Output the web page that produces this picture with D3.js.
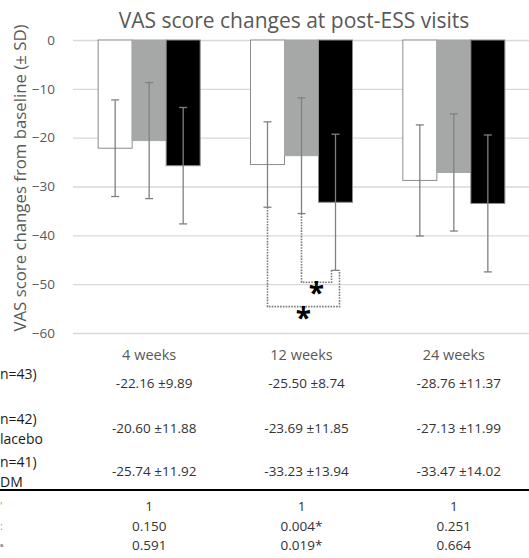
<!DOCTYPE html>
<html>
<head>
<meta charset="utf-8">
<script src="https://cdn.jsdelivr.net/npm/d3@7"></script>
<style>
  html, body { margin: 0; padding: 0; background: #fff; overflow: hidden; }
  svg { display: block; font-family: "Open Sans", sans-serif; }
</style>
</head>
<body>
<div id="chart"></div>
<script>
// visit categories
const categories = ["4 weeks", "12 weeks", "24 weeks"];
// three groups (white, grey, black bars)
const groups = ["n43", "placebo", "dm"];
// mean change per group, one value per visit
const means = [
  [-22.16, -25.50, -28.76],
  [-20.60, -23.69, -27.13],
  [-25.74, -33.23, -33.47]
];
const sds = [
  [9.89, 8.74, 11.37],
  [11.88, 11.85, 11.99],
  [11.92, 13.94, 14.02]
];
const yTicks = [0, -10, -20, -30, -40, -50, -60];
// visible (cut-off) row labels of the table under the chart
const rowLabels = [["n=43)", ""], ["n=42)", "lacebo"], ["n=41)", "DM"]];
const pLabels = ["'", ":", "▪"];
const pRows = [
  ["1", "1", "1"],
  ["0.150", "0.004*", "0.251"],
  ["0.591", "0.019*", "0.664"]
];
// significance brackets at 12 weeks: from group -> to group, bracket level
const brackets = [
  { cat: "12 weeks", from: 1, to: 2, level: -49.6, side: -1 },
  { cat: "12 weeks", from: 0, to: 2, level: -54.6, side: 1 }
];

const W = 529, H = 558;
const fills = ["#ffffff", "#a6a8a8", "#000000"];
const strokes = ["#8c8c8c", "#a6a8a8", "#8c8c8c"];

const svg = d3.select("#chart").append("svg")
  .attr("width", W).attr("height", H);

const x = d3.scaleBand().domain(categories).range([73, 530]);
const xs = d3.scaleBand().domain(groups).range([0, x.bandwidth()]).paddingOuter(0.74);
const y = d3.scaleLinear().domain([-60, 0]).range([333, 40]);

// gridlines
svg.append("g")
  .attr("transform", "translate(73,0)")
  .call(d3.axisLeft(y).tickValues(yTicks).tickSize(-(W - 73)).tickFormat(""))
  .call(g => g.select(".domain").remove())
  .call(g => g.selectAll("line").attr("stroke", "#d9d9d9").attr("stroke-width", 1.4));

// y tick labels
svg.append("g")
  .attr("transform", "translate(55,0)")
  .call(d3.axisLeft(y).tickValues(yTicks).tickSize(0).tickPadding(0))
  .call(g => g.select(".domain").remove())
  .call(g => g.selectAll("text")
    .attr("fill", "#595959")
    .style("font-family", "'Open Sans', sans-serif")
    .style("font-size", "13.5px"));

// bars
const cells = [];
groups.forEach((g, gi) => categories.forEach((c, ci) => {
  cells.push({ g, gi, c, mean: means[gi][ci], sd: sds[gi][ci] });
}));

const cx = d => x(d.c) + xs(d.g) + xs.bandwidth() / 2;

svg.append("g").selectAll("rect")
  .data(cells).join("rect")
  .attr("x", d => x(d.c) + xs(d.g))
  .attr("width", xs.bandwidth())
  .attr("y", y(0))
  .attr("height", d => y(d.mean) - y(0))
  .attr("fill", d => fills[d.gi])
  .attr("stroke", d => strokes[d.gi])
  .attr("stroke-width", 1);

// error bars
const eb = svg.append("g").attr("stroke", "#808080").attr("stroke-width", 1.3);
eb.selectAll("line.v").data(cells).join("line").attr("class", "v")
  .attr("x1", cx).attr("x2", cx)
  .attr("y1", d => y(d.mean + d.sd)).attr("y2", d => y(d.mean - d.sd));
eb.selectAll("line.t").data(cells).join("line").attr("class", "t")
  .attr("x1", d => cx(d) - 4).attr("x2", d => cx(d) + 4)
  .attr("y1", d => y(d.mean + d.sd)).attr("y2", d => y(d.mean + d.sd));
eb.selectAll("line.b").data(cells).join("line").attr("class", "b")
  .attr("x1", d => cx(d) - 4).attr("x2", d => cx(d) + 4)
  .attr("y1", d => y(d.mean - d.sd)).attr("y2", d => y(d.mean - d.sd));

// significance brackets
brackets.forEach(b => {
  const i = categories.indexOf(b.cat);
  const x1 = x(b.cat) + xs(groups[b.from]) + xs.bandwidth() / 2;
  const x2 = x(b.cat) + xs(groups[b.to]) + xs.bandwidth() / 2 + 4 * b.side;
  const yA = y(means[b.from][i] - sds[b.from][i]);
  const yB = y(means[b.to][i] - sds[b.to][i]);
  const yL = y(b.level);
  svg.append("path")
    .attr("d", `M${x1},${yA}V${yL}H${x2}V${yB}`)
    .attr("fill", "none")
    .attr("stroke", "#7a7a7a")
    .attr("stroke-width", 1.6)
    .attr("stroke-dasharray", "1.6,1.2");
  svg.append("text")
    .attr("x", (x1 + x2) / 2)
    .attr("y", yL + 21)
    .attr("text-anchor", "middle")
    .attr("font-size", "28px")
    .attr("font-weight", "bold")
    .attr("fill", "#000")
    .text("*");
});

// title
svg.append("text")
  .attr("x", 294).attr("y", 28)
  .attr("text-anchor", "middle")
  .attr("font-size", "21px")
  .attr("fill", "#595959")
  .text("VAS score changes at post-ESS visits");

// y label
svg.append("text")
  .attr("transform", `translate(26,${178}) rotate(-90)`)
  .attr("text-anchor", "middle")
  .attr("font-size", "16.8px")
  .attr("fill", "#595959")
  .text("VAS score changes from baseline (± SD)");

// category labels
svg.append("g").selectAll("text")
  .data(categories).join("text")
  .attr("x", d => x(d) + x.bandwidth() / 2)
  .attr("y", 355).attr("dy", "0.35em")
  .attr("text-anchor", "middle")
  .attr("font-size", "14.5px")
  .attr("fill", "#595959")
  .text(d => d);

// table of mean ± SD
const rowY = [383, 428, 471];
groups.forEach((g, gi) => {
  svg.append("g").selectAll("text")
    .data(categories).join("text")
    .attr("x", d => x(d) + x.bandwidth() / 2 + 5)
    .attr("y", rowY[gi]).attr("dy", "0.35em")
    .attr("text-anchor", "middle")
    .attr("font-size", "13.5px")
    .attr("fill", "#333")
    .text((d, ci) => `${means[gi][ci].toFixed(2)} ±${sds[gi][ci].toFixed(2)}`);
  svg.append("text")
    .attr("x", 0).attr("y", rowY[gi] - 9).attr("dy", "0.35em")
    .attr("font-size", "14px").attr("fill", "#1a1a1a")
    .text(rowLabels[gi][0]);
  svg.append("text")
    .attr("x", 0).attr("y", rowY[gi] + 11).attr("dy", "0.35em")
    .attr("font-size", "14px").attr("fill", "#1a1a1a")
    .text(rowLabels[gi][1]);
});

svg.append("line")
  .attr("x1", 0).attr("x2", W).attr("y1", 490).attr("y2", 490)
  .attr("stroke", "#000").attr("stroke-width", 2);

// p-value rows
const pY = [506, 526, 545];
pRows.forEach((row, ri) => {
  svg.append("g").selectAll("text")
    .data(categories).join("text")
    .attr("x", d => x(d) + x.bandwidth() / 2)
    .attr("y", pY[ri]).attr("dy", "0.35em")
    .attr("text-anchor", "middle")
    .attr("font-size", "13.5px")
    .attr("fill", "#333")
    .text((d, ci) => row[ci]);
  svg.append("text")
    .attr("x", 0).attr("y", pY[ri]).attr("dy", "0.35em")
    .attr("font-size", "11px").attr("fill", "#999")
    .text(pLabels[ri]);
});
</script>
</body>
</html>
